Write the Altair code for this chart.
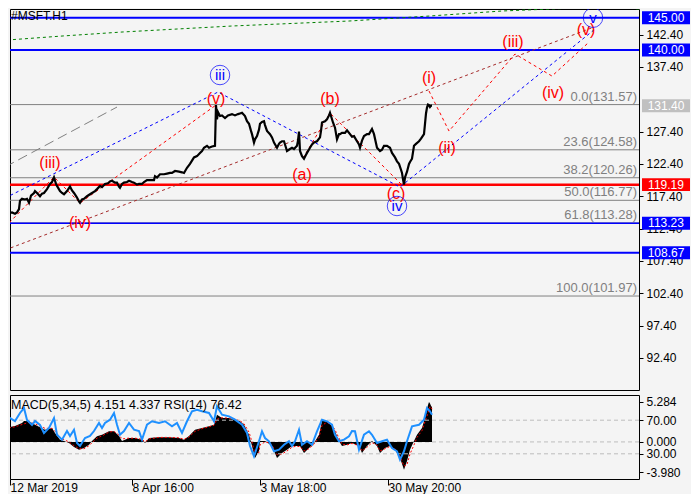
import altair as alt
import pandas as pd

FONT = "Liberation Sans"

# ---------------- data ----------------
# (bar index, close) - hourly bars
PRICE = [(3,113.6),(5,114.6),(7,114.8),(10,114.9),(13,114.7),(15,114.9),(17,115.4),(18,116.7),(20,117.0),(23,116.9),
(25,117.0),(27,116.4),(29,117.5),(32,117.9),(33,118.2),(35,117.9),(38,117.4),(40,117.8),(42,117.9),(45,118.5),
(48,119.3),(50,119.6),(52,120.3),(54,119.3),(55,119.0),(58,118.2),(60,117.9),(62,117.7),(65,118.2),(68,118.9),
(70,118.3),(72,117.9),(75,117.2),(77,116.6),(78,116.4),(80,116.9),(82,117.0),(85,117.4),(88,117.7),(90,117.9),
(93,118.2),(95,118.5),(98,119.0),(100,118.8),(103,119.3),(106,119.4),(108,119.7),(110,119.8),(113,119.5),(115,119.5),
(117,118.9),(118,118.7),(120,119.3),(122,119.5),(125,119.6),(127,119.8),(130,119.6),(132,119.5),(135,119.2),(137,119.3),
(140,119.3),(142,119.6),(145,119.9),(148,119.9),(152,119.9),(153,120.5),(155,120.3),(158,120.8),(162,120.8),(165,120.9),
(168,121.0),(170,121.0),(173,121.3),(177,121.2),(180,121.1),(182,121.0),(185,121.8),(188,122.4),(190,122.9),(192,123.4),
(195,123.6),(198,124.1),(200,124.4),(202,124.9),(205,125.2),(207,124.9),(210,125.1),(213,125.2),(214,131.5),(215,129.3),
(216,130.4),(218,129.8),(220,129.9),(223,129.5),(226,129.9),(230,130.1),(233,129.9),(236,130.1),(238,130.2),(240,130.3),
(243,129.8),(245,129.0),(247,128.6),(249,127.5),(250,127.0),(252,125.7),(253,126.2),(255,126.7),(257,127.7),(258,128.6),
(260,128.9),(262,129.0),(263,128.4),(265,127.5),(268,127.0),(270,126.5),(272,125.7),(275,124.9),(277,125.5),(278,125.7),
(280,125.9),(282,125.9),(284,124.9),(285,124.4),(288,124.7),(290,124.9),(292,124.7),(295,125.2),(296,126.0),(297,127.4),
(298,124.4),(300,123.6),(302,123.2),(304,123.8),(305,124.1),(308,124.9),(310,125.4),(312,125.7),(315,125.9),(318,126.5),
(319,127.5),(320,128.8),(323,129.0),(325,129.3),(327,129.9),(328,130.3),(329,129.8),(331,128.8),(333,128.0),(335,126.2),
(337,127.0),(338,127.0),(340,127.2),(343,127.2),(345,127.6),(348,127.0),(350,126.6),(352,126.7),(355,125.9),(357,125.4),
(358,124.9),(360,126.0),(362,126.7),(365,127.0),(367,127.0),(370,127.8),(372,127.0),(375,124.9),(378,124.4),(380,124.6),
(382,125.2),(385,125.2),(388,124.9),(390,124.1),(393,123.4),(395,122.8),(397,122.4),(399,121.5),(400,121.0),(401,120.0),
(402,119.2),(403,120.3),(405,121.2),(407,122.4),(408,122.7),(410,123.2),(412,125.2),(414,125.5),(417,125.9),(419,126.3),
(422,127.0),(423,128.6),(424,130.2),(425,131.1),(426,131.57),(427,131.5),(428,131.2),(429,131.4),(430,131.4)]

MACD = [(3,1.84),(8,1.97),(13,2.1),(20,2.50),(22,2.77),(27,2.73),(33,2.28),(43,1.61),(50,1.84),(53,1.18),(58,0.29),
(62,0.12),(67,-0.15),(72,-0.67),(77,-1.03),(82,-0.81),(87,-0.37),(90,0.12),(95,0.74),(100,0.95),(107,1.40),(112,1.40),
(117,0.78),(120,0.12),(127,0.52),(133,0.52),(140,0.29),(143,-0.15),(147,0.52),(157,0.61),(167,0.61),(177,0.52),(182,0.29),
(187,0.78),(193,1.61),(200,1.84),(207,2.06),(212,2.28),(215,3.60),(220,3.16),(227,3.16),(233,2.94),(238,2.73),(242,2.28),
(247,0.95),(250,-0.54),(253,-2.13),(257,-1.20),(258,0.12),(263,0.12),(266,-0.15),(270,-0.54),(275,-2.13),(280,-1.47),
(285,-1.03),(290,-0.54),(293,-0.54),(298,-0.54),(302,-1.47),(307,-0.81),(312,-0.15),(317,0.95),(320,2.77),(325,2.73),
(330,2.06),(333,1.40),(337,0.12),(340,-0.54),(345,-0.37),(350,-0.15),(357,-0.54),(360,-1.47),(365,-0.54),(370,0.12),
(375,-0.54),(378,-1.47),(383,-0.81),(388,-0.54),(393,-1.03),(398,-2.13),(402,-3.68),(405,-2.53),(408,-1.03),(412,0.12),
(415,0.95),(420,1.84),(423,3.16),(426,4.9),(427,5.28),(428,5.1),(429,4.8),(430,4.6)]

SIGNAL = [(3,1.7),(8,1.9),(13,2.0),(20,2.3),(27,2.6),(33,2.4),(43,1.8),(50,1.8),(53,1.4),(58,0.6),(62,0.3),(67,0.0),
(72,-0.5),(77,-0.9),(82,-0.9),(87,-0.5),(90,-0.1),(95,0.5),(100,0.8),(107,1.3),(112,1.4),(117,0.9),(120,0.4),(127,0.5),
(133,0.5),(140,0.35),(143,0.0),(147,0.4),(157,0.6),(167,0.6),(177,0.55),(182,0.35),(187,0.65),(193,1.4),(200,1.75),
(207,2.0),(212,2.2),(215,3.0),(220,3.2),(227,3.15),(233,3.0),(238,2.8),(242,2.4),(247,1.3),(250,0.0),(253,-1.6),
(257,-1.4),(258,-0.4),(263,0.0),(266,-0.1),(270,-0.4),(275,-1.7),(280,-1.6),(285,-1.2),(290,-0.7),(293,-0.6),(298,-0.6),
(302,-1.2),(307,-0.9),(312,-0.3),(317,0.6),(320,2.2),(325,2.6),(330,2.2),(333,1.6),(337,0.5),(340,-0.3),(345,-0.4),
(350,-0.2),(357,-0.5),(360,-1.2),(365,-0.7),(370,-0.1),(375,-0.4),(378,-1.2),(383,-0.9),(388,-0.6),(393,-0.9),(398,-1.9),
(402,-3.2),(405,-3.0),(408,-1.6),(412,-0.4),(415,0.6),(420,1.5),(423,2.7),(427,4.2),(428,4.7),(429,4.6),(430,4.34)]

RSI = [(3,72.6),(8,72.6),(13,69.0),(18,78.6),(22,84.5),(25,70.2),(30,64.3),(33,69.0),(38,64.3),(42,54.8),(47,60.7),
(52,72.6),(55,52.7),(60,46.8),(65,57.1),(68,51.2),(72,58.7),(75,42.9),(78,39.3),(83,48.8),(88,51.2),(92,57.1),(97,66.7),
(100,60.7),(103,66.7),(108,70.6),(112,78.6),(115,64.6),(118,52.7),(122,57.1),(127,66.7),(132,58.7),(137,57.1),(140,46.8),
(145,64.6),(150,68.7),(157,66.7),(163,68.7),(170,62.7),(175,66.7),(180,54.8),(185,68.7),(190,80.6),(195,82.5),(200,80.6),
(207,78.6),(212,68.7),(215,86.5),(220,76.5),(227,74.6),(233,70.6),(240,64.6),(245,54.8),(248,39.3),(252,27.0),(257,44.9),
(260,56.8),(263,48.8),(267,44.9),(272,33.0),(277,34.9),(282,40.8),(287,44.9),(290,39.3),(293,44.9),(297,58.7),(300,40.8),
(305,44.9),(310,40.8),(315,56.8),(320,70.6),(325,68.7),(330,64.6),(333,52.7),(337,44.9),(342,46.8),(347,50.8),(350,57.1),
(353,56.8),(357,34.9),(362,52.7),(367,56.8),(370,52.7),(375,42.9),(380,44.9),(385,46.8),(390,36.9),(395,33.0),(398,23.0),
(402,33.0),(405,44.9),(410,62.7),(417,64.6),(422,70.6),(425,84.5),(428,80.6),(430,76.4)]

# wave lines (bar, price)
RED_WAVES = [
    [(3,112.64),(52,120.37),(78,116.35),(214,131.50)],
    [(301,123.31),(328,130.26),(401,118.98)],
    [(427,133.67),(447,127.48),(513,139.39),(550,135.98),(586,141.09)],
]
BLUE_WAVE = [(3,117.12),(216,133.51),(398,118.82),(593,143.25)]
BROWN_CHANNEL = [(3,109.08),(592,143.56)]
GREEN_CURVE = [(5,141.55),(60,142.17),(120,142.79),(230,143.72),(347,144.49),(427,145.26),(500,146.04),
               (560,146.42),(590,146.65),(610,146.65),(637,146.35)]
GRAY_DASH = [(3,121.92),(115,131.19)]

FIB_PCT = ["0.0", "23.6", "38.2", "50.0", "61.8", "100.0"]
FIB_PRICE = [131.57, 124.58, 120.26, 116.77, 113.28, 101.97]

LEVEL_PRICE = [145.00, 140.00, 119.19, 113.23, 108.67]
LEVEL_COLOR = ["#0000FF", "#0000FF", "#FF0000", "#0000FF", "#0000FF"]
LEVEL_WIDTH = [2, 2, 2.5, 1.5, 2]

BOX_PRICE = [145.00, 140.00, 131.40, 119.19, 113.23, 108.67]
BOX_COLOR = ["#0000FF", "#0000FF", "#C0C0C0", "#FF0000", "#0000FF", "#0000FF"]

WAVE_TEXT = ["(iii)", "(iv)", "(v)", "(a)", "(b)", "(c)", "(i)", "(ii)", "(iii)", "(iv)", "(v)"]
WAVE_BAR = [48, 78, 214, 300, 328, 394, 427, 445, 511, 551, 584]
WAVE_PRICE = [122.54, 113.26, 132.43, 120.68, 132.43, 117.74, 135.68, 124.85, 141.24, 133.36, 143.10]

CIRCLE_TEXT = ["iii", "iv", "v"]
CIRCLE_BAR = [218, 395, 591]
CIRCLE_PRICE = [136.14, 115.89, 145.0]

PRICE_TICKS = [142.4, 137.4, 127.4, 122.4, 117.4, 112.4, 107.4, 102.4, 97.4, 92.4]
TIME_TICKS = [8, 130, 258, 386]
TIME_LABELS = ["12 Mar 2019", "8 Apr 16:00", "3 May 18:00", "30 May 20:00"]
IND_TICKS = [5.284, 2.875, 0.0, -1.571, -3.98]
IND_LABELS = ["5.284", "70.00", "0.000", "30.00", "-3.980"]

# ---------------- layout ----------------
W = 629
H_MAIN = 381
H_IND = 84
X_DOMAIN = [8, 637]
Y_DOMAIN = [87.44, 146.35]

xscale = alt.Scale(domain=X_DOMAIN, nice=False, zero=False)
yscale = alt.Scale(domain=Y_DOMAIN, nice=False, zero=False)
yaxis = alt.Axis(orient="right", values=PRICE_TICKS, format=".2f", tickSize=4, tickColor="black",
                 labelColor="black", labelFont=FONT, labelFontSize=12, labelPadding=3,
                 domain=False, grid=False, title=None, labelOverlap=False)


def X(field="bar"):
    return alt.X(f"{field}:Q", scale=xscale, axis=None)


def Y(field="price"):
    return alt.Y(f"{field}:Q", scale=yscale, axis=yaxis)


def pts(lst):
    return pd.DataFrame(lst, columns=["bar", "price"])


price_df = pts(PRICE)
red_df = pd.concat([pts(s).assign(seg=i) for i, s in enumerate(RED_WAVES)])

fib_df = pd.DataFrame({"price": FIB_PRICE,
                       "label": [f"{p}({v:.2f})" for p, v in zip(FIB_PCT, FIB_PRICE)]})
lvl_df = pd.DataFrame({"price": LEVEL_PRICE, "color": LEVEL_COLOR, "w": LEVEL_WIDTH})
box_df = pd.DataFrame({"price": BOX_PRICE, "color": BOX_COLOR,
                       "label": [f"{v:.2f}" for v in BOX_PRICE]})
wave_df = pd.DataFrame({"bar": WAVE_BAR, "price": WAVE_PRICE, "label": WAVE_TEXT})
circ_df = pd.DataFrame({"bar": CIRCLE_BAR, "price": CIRCLE_PRICE, "label": CIRCLE_TEXT})

fib_rules = alt.Chart(fib_df).mark_rule(color="#808080", strokeWidth=1).encode(y=Y())
lvl_rules = alt.Chart(lvl_df).mark_rule().encode(
    y=Y(), color=alt.Color("color:N", scale=None), strokeWidth=alt.StrokeWidth("w:Q", scale=None))

gray_line = alt.Chart(pts(GRAY_DASH)).mark_line(color="#808080", strokeDash=[10, 5], strokeWidth=1, clip=True).encode(x=X(), y=Y())
green_line = alt.Chart(pts(GREEN_CURVE)).mark_line(color="#008000", strokeDash=[3, 3], strokeWidth=1, clip=True).encode(x=X(), y=Y())
brown_line = alt.Chart(pts(BROWN_CHANNEL)).mark_line(color="#A52A2A", strokeDash=[3, 3], strokeWidth=1, clip=True).encode(x=X(), y=Y())
blue_line = alt.Chart(pts(BLUE_WAVE)).mark_line(color="#0000FF", strokeDash=[3, 3], strokeWidth=1, clip=True).encode(x=X(), y=Y())
red_lines = alt.Chart(red_df).mark_line(color="#FF0000", strokeDash=[3, 3], strokeWidth=1, clip=True).encode(
    x=X(), y=Y(), detail="seg:N")

price_line = alt.Chart(price_df).mark_line(color="black", strokeWidth=2.2, clip=True).encode(x=X(), y=Y())

fib_text = alt.Chart(fib_df).mark_text(align="right", baseline="alphabetic", dy=-4, color="#808080",
                                       font=FONT, fontSize=13).encode(x=alt.value(W - 2), y=Y(), text="label:N")

wave_text = alt.Chart(wave_df).mark_text(color="#FF0000", font=FONT, fontSize=16, baseline="middle").encode(
    x=X(), y=Y(), text="label:N")

circles = alt.Chart(circ_df).mark_point(shape="circle", filled=False, size=380, color="#0000FF",
                                        strokeWidth=1, clip=True).encode(x=X(), y=Y())
circ_text = alt.Chart(circ_df).mark_text(color="#0000FF", font=FONT, fontSize=15, baseline="middle").encode(
    x=X(), y=Y(), text="label:N")

five_text = alt.Chart(pd.DataFrame({"bar": [591], "price": [146.9], "label": ["5"]})).mark_text(
    color="#A52A2A", font=FONT, fontSize=13, baseline="middle", clip=True).encode(x=X(), y=Y(), text="label:N")

title_text = alt.Chart(pd.DataFrame({"t": ["#MSFT.H1"]})).mark_text(
    align="left", baseline="top", color="black", font=FONT, fontSize=12).encode(
    x=alt.value(1), y=alt.value(2), text="t:N")

boxes = alt.Chart(box_df).transform_calculate(top="datum.price + 1.0", bot="datum.price - 1.0").mark_rect().encode(
    x=alt.value(632), x2=alt.value(680), y=Y("top"), y2="bot:Q", color=alt.Color("color:N", scale=None))
box_text = alt.Chart(box_df).mark_text(color="white", font=FONT, fontSize=12, baseline="middle", align="center").encode(
    x=alt.value(656), y=Y(), text="label:N")

main = alt.layer(fib_rules, lvl_rules, gray_line, green_line, brown_line, blue_line, red_lines, price_line,
                 fib_text, wave_text, circles, circ_text, five_text, title_text, boxes, box_text).properties(
    width=W, height=H_MAIN)

# ---------------- indicator panel ----------------
label_expr = " : ".join(
    [f"abs(datum.value - ({v})) < 0.01 ? '{s}'" for v, s in zip(IND_TICKS, IND_LABELS)]) + " : ''"
time_expr = " : ".join(
    [f"abs(datum.value - {v}) < 1 ? '{s}'" for v, s in zip(TIME_TICKS, TIME_LABELS)]) + " : ''"

xaxis_ind = alt.Axis(values=TIME_TICKS, labelExpr=time_expr, tickSize=6, tickColor="black", labelAlign="left",
                     labelBaseline="top", labelPadding=-3, labelFlush=False, labelOverlap=False, domain=False,
                     grid=False, title=None, labelFont=FONT, labelFontSize=12, labelColor="black")
xi = alt.X("bar:Q", scale=xscale, axis=xaxis_ind)

macd_scale = alt.Scale(domain=[-4.906, 6.21], nice=False, zero=False)
macd_axis = alt.Axis(orient="right", values=IND_TICKS, labelExpr=label_expr, tickSize=4, tickColor="black",
                     labelColor="black", labelFont=FONT, labelFontSize=12, labelPadding=3, domain=False,
                     grid=False, title=None, labelOverlap=False)
rsi_scale = alt.Scale(domain=[0, 100], nice=False, zero=False)

macd_df = pd.DataFrame(MACD, columns=["bar", "macd"])
sig_df = pd.DataFrame(SIGNAL, columns=["bar", "macd"])
rsi_df = pd.DataFrame(RSI, columns=["bar", "rsi"])

zero_rule = alt.Chart(pd.DataFrame({"macd": [0.0]})).mark_rule(color="#BDBDBD", strokeDash=[4, 3]).encode(
    y=alt.Y("macd:Q", scale=macd_scale, axis=macd_axis))
macd_area = alt.Chart(macd_df).mark_area(color="black", clip=True).encode(
    x=xi, y=alt.Y("macd:Q", scale=macd_scale, axis=macd_axis), y2=alt.datum(0))
sig_line = alt.Chart(sig_df).mark_line(color="#FF0000", strokeDash=[2, 2], strokeWidth=1, clip=True).encode(
    x=xi, y=alt.Y("macd:Q", scale=macd_scale, axis=macd_axis))
ind_text = alt.Chart(pd.DataFrame({"t": ["MACD(5,34,5) 4.151 4.337 RSI(14) 76.42"]})).mark_text(
    align="left", baseline="middle", color="black", font=FONT, fontSize=12.5).encode(
    x=alt.value(1), y=alt.value(10), text="t:N")

rsi_rules = alt.Chart(pd.DataFrame({"rsi": [70, 30]})).mark_rule(color="#BDBDBD", strokeDash=[4, 3]).encode(
    y=alt.Y("rsi:Q", scale=rsi_scale, axis=None))
rsi_line = alt.Chart(rsi_df).mark_line(color="#1E90FF", strokeWidth=2, clip=True).encode(
    x=xi, y=alt.Y("rsi:Q", scale=rsi_scale, axis=None))

macd_layer = alt.layer(zero_rule, macd_area, sig_line)
rsi_layer = alt.layer(rsi_rules, rsi_line)
ind = alt.layer(macd_layer, rsi_layer, ind_text).resolve_scale(y="independent").properties(width=W, height=H_IND)

chart = alt.vconcat(main, ind, spacing=3).properties(padding=0, background="#F4F4F4").configure_view(
    stroke="black", strokeWidth=1)

chart.save("out.html", embed_options={"renderer": "svg", "actions": False})
